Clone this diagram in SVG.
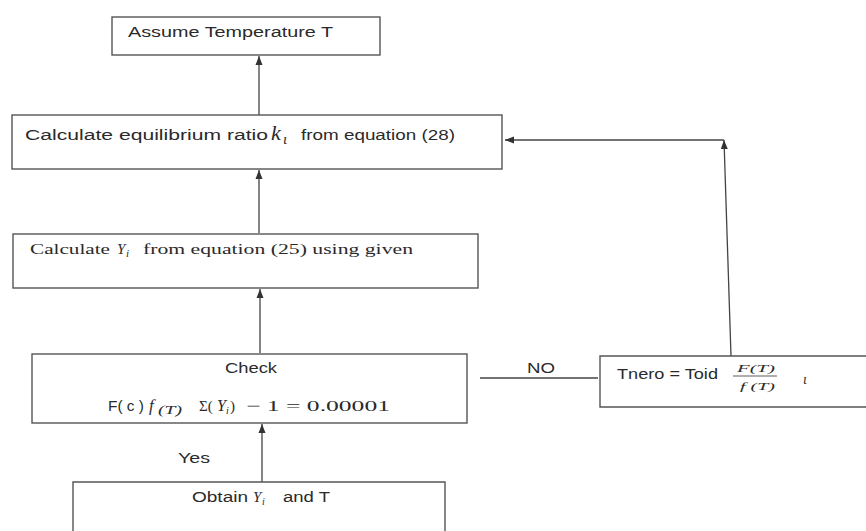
<svg xmlns="http://www.w3.org/2000/svg" width="866" height="531" viewBox="0 0 866 531">
<style>
.box{fill:none;stroke:#555;stroke-width:1.4}
.con{fill:none;stroke:#444;stroke-width:1.3}
.s{font-family:"Liberation Sans",Arial,sans-serif;fill:#2a2a2a;font-size:14px}
.r{font-family:"Liberation Serif","Times New Roman",serif;fill:#2a2a2a;font-size:15px}
.i{font-family:"Liberation Serif","Times New Roman",serif;fill:#2a2a2a;font-style:italic}
</style>
<defs>
<marker id="ah" markerUnits="userSpaceOnUse" markerWidth="10" markerHeight="10" refX="9" refY="5" orient="auto">
<path d="M0,1.5 L9,5 L0,8.5 Z" fill="#333"/>
</marker>
</defs>
<rect width="866" height="531" fill="#fff"/>
<g id="connectors">
<line class="con" x1="259" y1="115" x2="259" y2="56" marker-end="url(#ah)"/>
<line class="con" x1="259" y1="233" x2="259" y2="170" marker-end="url(#ah)"/>
<line class="con" x1="260" y1="353" x2="260" y2="289" marker-end="url(#ah)"/>
<line class="con" x1="262" y1="482" x2="262" y2="424" marker-end="url(#ah)"/>
<line class="con" x1="480" y1="378" x2="598" y2="378"/>
<line class="con" x1="731" y1="356" x2="724" y2="140" marker-end="url(#ah)"/>
<line class="con" x1="724" y1="140" x2="505" y2="140" marker-end="url(#ah)"/>
<text class="s" x="527" y="373" textLength="28" lengthAdjust="spacingAndGlyphs">NO</text>
<text class="s" x="178" y="463" textLength="32" lengthAdjust="spacingAndGlyphs">Yes</text>
</g>
<g id="assume">
<rect class="box" x="112" y="17" width="268" height="38"/>
<text class="s" x="128" y="37" font-size="15" textLength="205" lengthAdjust="spacingAndGlyphs">Assume Temperature T</text>
</g>
<g id="calc-k">
<rect class="box" x="12" y="115" width="490" height="54"/>
<text class="s" x="25" y="140" textLength="243" lengthAdjust="spacingAndGlyphs">Calculate  equilibrium ratio</text>
<text class="i" x="271" y="140" font-size="22">k</text>
<text class="i" x="283" y="144" font-size="15">ι</text>
<text class="s" x="301" y="140" textLength="154" lengthAdjust="spacingAndGlyphs">from equation (28)</text>
</g>
<g id="calc-y">
<rect class="box" x="13" y="234" width="465" height="54"/>
<text class="r" x="30" y="254" textLength="80" lengthAdjust="spacingAndGlyphs">Calculate</text>
<text class="i" x="117" y="254" font-size="15">Y</text>
<text class="i" x="126" y="257" font-size="11">i</text>
<text class="r" x="143" y="254" textLength="270" lengthAdjust="spacingAndGlyphs">from equation (25) using given</text>
</g>
<g id="check">
<rect class="box" x="32" y="354" width="435" height="69"/>
<text class="s" x="251" y="373" text-anchor="middle" textLength="52" lengthAdjust="spacingAndGlyphs">Check</text>
<text class="s" x="108" y="411" textLength="36" lengthAdjust="spacingAndGlyphs">F( c )</text>
<text class="i" x="149" y="411" font-size="17">f</text>
<text class="i" x="158" y="414" font-size="12" textLength="24" lengthAdjust="spacingAndGlyphs">(T)</text>
<text class="r" x="199" y="411" font-size="17">Σ(</text>
<text class="i" x="217" y="411" font-size="16">Y</text>
<text class="i" x="226" y="414" font-size="10">i</text>
<text class="r" x="230" y="411" font-size="17">)</text>
<text class="r" x="246" y="411" font-size="17" textLength="144" lengthAdjust="spacingAndGlyphs">− 1 = 0.00001</text>
</g>
<g id="tnew">
<path class="box" d="M867,356 H600 V407 H867"/>
<text class="s" x="617" y="379" textLength="101" lengthAdjust="spacingAndGlyphs">Tnero = Toid</text>
<text class="i" x="737" y="372" font-size="11" textLength="38" lengthAdjust="spacingAndGlyphs">F(T)</text>
<line x1="733" y1="376" x2="777" y2="376" stroke="#333" stroke-width="0.8"/>
<text class="i" x="740" y="390" font-size="11" textLength="35" lengthAdjust="spacingAndGlyphs">f (T)</text>
<text class="i" x="803" y="384" font-size="14">ι</text>
</g>
<g id="obtain">
<path class="box" d="M73,531 V482 H445 V531"/>
<text class="s" x="192" y="502" textLength="56" lengthAdjust="spacingAndGlyphs">Obtain</text>
<text class="i" x="253" y="502" font-size="15">Y</text>
<text class="i" x="262" y="505" font-size="10">i</text>
<text class="s" x="283" y="502" textLength="47" lengthAdjust="spacingAndGlyphs">and T</text>
</g>
</svg>
